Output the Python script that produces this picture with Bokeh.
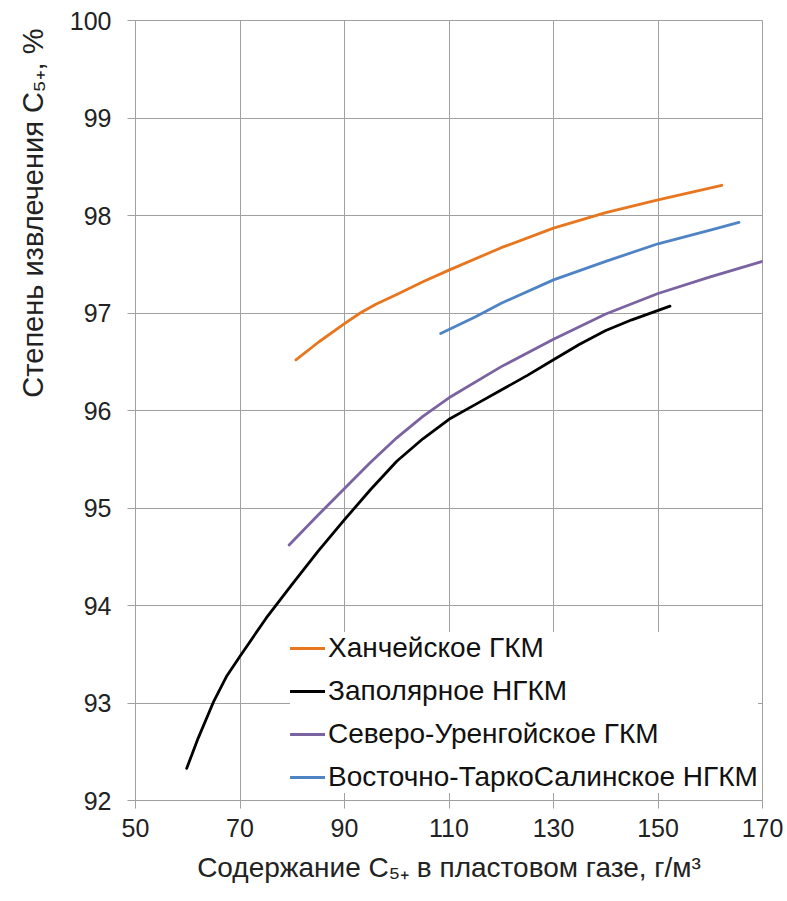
from bokeh.plotting import figure
from bokeh.models import Range1d, FixedTicker, Legend, LegendItem
from bokeh.embed import file_html
from bokeh.resources import INLINE

# ---- data ----
x_ticks = [50, 70, 90, 110, 130, 150, 170]
y_ticks = [92, 93, 94, 95, 96, 97, 98, 99, 100]

names = ["Ханчейское ГКМ", "Заполярное НГКМ", "Северо-Уренгойское ГКМ",
         "Восточно-ТаркоСалинское НГКМ"]

x_hanch = [80.7, 85, 90, 93, 96, 100, 105, 110, 120, 130, 140, 150, 162.2]
y_hanch = [96.52, 96.70, 96.89, 97.00, 97.09, 97.19, 97.32, 97.44, 97.67, 97.87, 98.03,
           98.16, 98.31]

x_zap = [59.8, 62, 65, 67.5, 70, 75, 80, 85, 90, 95, 100, 105, 110, 115, 120, 125, 130,
         135, 140, 145, 152.3]
y_zap = [92.33, 92.64, 93.02, 93.28, 93.48, 93.87, 94.22, 94.56, 94.88, 95.19, 95.48,
         95.71, 95.91, 96.06, 96.21, 96.36, 96.52, 96.68, 96.82, 96.93, 97.07]

x_sev = [79.4, 85, 90, 95, 100, 105, 110, 120, 130, 140, 150, 160, 170]
y_sev = [94.62, 94.93, 95.20, 95.47, 95.72, 95.94, 96.13, 96.45, 96.73, 96.99, 97.20,
         97.37, 97.53]

x_vost = [108.4, 115, 120, 130, 140, 150, 160, 165.5]
y_vost = [96.79, 96.96, 97.10, 97.34, 97.53, 97.71, 97.85, 97.93]

x_title = "Содержание C₅₊ в пластовом газе, г/м³"
y_title = "Степень извлечения  C₅₊, %"

colors = ["#E8761F", "#000000", "#7B62A0", "#4F84C4"]

FONT = "Liberation Sans"
GRID = "#a0a0a0"
TXT = "#222222"

p = figure(width=787, height=901, output_backend="svg", toolbar_location=None,
           x_range=Range1d(50, 170), y_range=Range1d(92, 100),
           min_border_left=135, min_border_right=25, min_border_top=20,
           min_border_bottom=101)
p.background_fill_color = "white"
p.border_fill_color = "white"
p.outline_line_color = GRID
p.outline_line_width = 1

p.xaxis.ticker = FixedTicker(ticks=x_ticks)
p.yaxis.ticker = FixedTicker(ticks=y_ticks)
for ax in (p.xaxis[0], p.yaxis[0]):
    ax.axis_line_color = GRID
    ax.major_tick_line_color = GRID
    ax.major_tick_out = 8
    ax.major_tick_in = 0
    ax.minor_tick_line_color = None
    ax.major_label_text_font = FONT
    ax.major_label_text_font_size = "25px"
    ax.major_label_text_color = TXT
    ax.axis_label_text_font = FONT
    ax.axis_label_text_font_style = "normal"
    ax.axis_label_text_color = TXT

p.xaxis.axis_label = x_title
p.xaxis.axis_label_text_font_size = "28px"
p.xaxis.major_label_standoff = 10
p.xaxis.axis_label_standoff = 12

# y title: in the reference it sits towards the top of the axis; leading
# no-break spaces shift the centred label upwards
p.yaxis.axis_label = "\u00a0" * 50 + y_title
p.yaxis.axis_label_text_font_size = "29px"
p.yaxis.major_label_standoff = 16
p.yaxis.axis_label_standoff = 18

p.xgrid.grid_line_color = GRID
p.ygrid.grid_line_color = GRID

series = [(x_hanch, y_hanch), (x_zap, y_zap), (x_sev, y_sev), (x_vost, y_vost)]
items = []
for (xs, ys), c, n in zip(series, colors, names):
    r = p.line(xs, ys, line_color=c, line_width=2.8, line_join="round", line_cap="round")
    items.append(LegendItem(label=n, renderers=[r]))

legend = Legend(items=items, location=(155, 7))
legend.label_text_font = FONT
legend.label_text_font_size = "28px"
legend.label_text_color = "#111111"
legend.glyph_width = 35
legend.glyph_height = 30
legend.label_height = 30
legend.label_standoff = 3
legend.spacing = 11
legend.padding = 8
legend.margin = 0
legend.border_line_color = None
legend.background_fill_color = "white"
legend.background_fill_alpha = 1.0
p.add_layout(legend, "center")

open("out.html", "w").write(file_html(p, INLINE))
